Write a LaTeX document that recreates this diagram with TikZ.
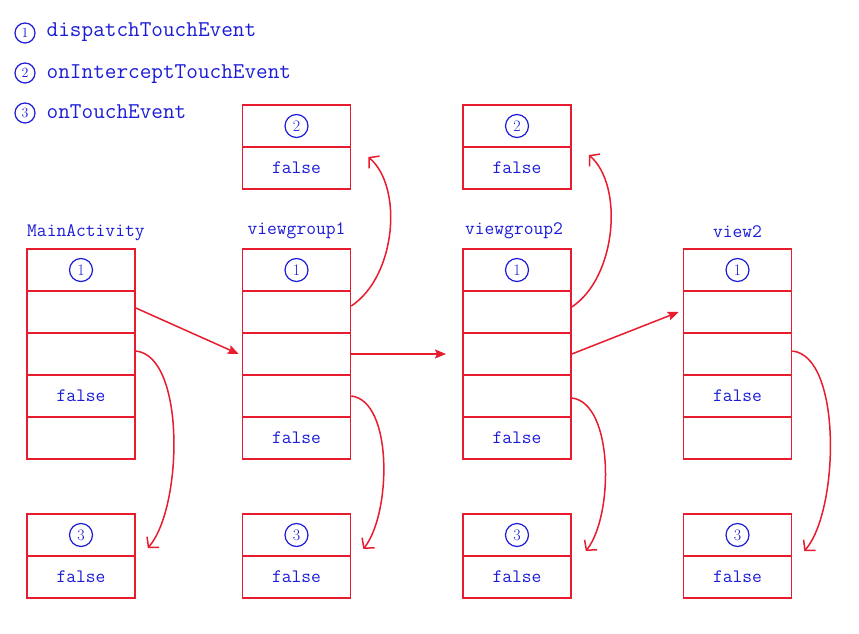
\documentclass[tikz,border=0pt]{standalone}
\usetikzlibrary{arrows.meta}
\definecolor{myred}{RGB}{232,28,46}
\definecolor{myblue}{RGB}{28,28,215}
\begin{document}
\begin{tikzpicture}[x=1pt,y=-1pt,
  cell/.style={draw=myred,line width=1.6pt,minimum width=108pt,minimum height=42pt,inner sep=0pt,
    text=myblue,font=\fontsize{19}{19}\selectfont\ttfamily},
  numc/.style={circle,draw=myblue,line width=1.2pt,minimum size=23pt,inner sep=0pt,
    text=myblue,font=\fontsize{16}{16}\selectfont\rmfamily},
  legc/.style={circle,draw=myblue,line width=1.2pt,minimum size=20pt,inner sep=0pt,
    text=myblue,font=\fontsize{14}{14}\selectfont\rmfamily},
  legt/.style={anchor=base west,inner sep=0pt,text=myblue,font=\fontsize{22.6}{22.6}\selectfont\ttfamily},
  lbl/.style={anchor=base,inner sep=0pt,text=myblue,font=\fontsize{19}{19}\selectfont\ttfamily},
  straight/.style={draw=myred,line width=1.5pt,-{Stealth[length=11pt,width=9pt,inset=2pt]}},
  curve/.style={draw=myred,line width=1.5pt,-{Straight Barb[length=7pt,width=16pt]}}
]
\useasboundingbox[fill=white] (0,0) rectangle (859,634);

% legend
\node[legc] (l1) at (25,33) {1};
\node[legt] (lt1) at (46.5,37) {dispatchTouchEvent};
\node[legc] (l2) at (25,73) {2};
\node[legt] (lt2) at (46.5,78) {onInterceptTouchEvent};
\node[legc] (l3) at (25,113) {3};
\node[legt] (lt3) at (46.5,118) {onTouchEvent};

% column labels
\node[lbl,anchor=base west] (h1) at (27,236) {MainActivity};
\node[lbl] (h2) at (296.5,234) {viewgroup1};
\node[lbl] (h3) at (514,234) {viewgroup2};
\node[lbl] (h4) at (737.5,237) {view2};

% column 1
\node[cell] (c1r1) at (81,270) {};
\node[cell] (c1r2) at (81,312) {};
\node[cell] (c1r3) at (81,354) {};
\node[cell] (c1r4) at (81,396) {false};
\node[cell] (c1r5) at (81,438) {};
\node[numc] (n1) at (c1r1) {1};
% column 2
\node[cell] (c2r1) at (296.5,270) {};
\node[cell] (c2r2) at (296.5,312) {};
\node[cell] (c2r3) at (296.5,354) {};
\node[cell] (c2r4) at (296.5,396) {};
\node[cell] (c2r5) at (296.5,438) {false};
\node[numc] (n2) at (c2r1) {1};
% column 3
\node[cell] (c3r1) at (517,270) {};
\node[cell] (c3r2) at (517,312) {};
\node[cell] (c3r3) at (517,354) {};
\node[cell] (c3r4) at (517,396) {};
\node[cell] (c3r5) at (517,438) {false};
\node[numc] (n3) at (c3r1) {1};
% column 4
\node[cell] (c4r1) at (737.5,270) {};
\node[cell] (c4r2) at (737.5,312) {};
\node[cell] (c4r3) at (737.5,354) {};
\node[cell] (c4r4) at (737.5,396) {false};
\node[cell] (c4r5) at (737.5,438) {};
\node[numc] (n4) at (c4r1) {1};

% top boxes
\node[cell] (t2a) at (296.5,126) {};
\node[cell] (t2b) at (296.5,168) {false};
\node[numc] (tn2) at (t2a) {2};
\node[cell] (t3a) at (517,126) {};
\node[cell] (t3b) at (517,168) {false};
\node[numc] (tn3) at (t3a) {2};

% bottom boxes
\node[cell] (b1a) at (81,535) {};
\node[cell] (b1b) at (81,577) {false};
\node[numc] (bn1) at (b1a) {3};
\node[cell] (b2a) at (296.5,535) {};
\node[cell] (b2b) at (296.5,577) {false};
\node[numc] (bn2) at (b2a) {3};
\node[cell] (b3a) at (517,535) {};
\node[cell] (b3b) at (517,577) {false};
\node[numc] (bn3) at (b3a) {3};
\node[cell] (b4a) at (737.5,535) {};
\node[cell] (b4b) at (737.5,577) {false};
\node[numc] (bn4) at (b4a) {3};

% straight arrows
\coordinate (gap) at (446,354);
\draw[straight] ([yshift=4pt]c1r2.east) -- ([xshift=-3pt]c2r3.west);
\draw[straight] (c2r3.east) -- (gap);
\draw[straight] (c3r3.east) -- ([xshift=-4pt]c4r2.west);

% curved arrows
\draw[curve] ([yshift=3pt]c1r3.east) .. controls +(50,5) and +(35,-40) .. ([xshift=12pt,yshift=-13pt]b1a.east);
\draw[curve] ([yshift=6pt]c2r2.east) .. controls +(45,-30) and +(35,30) .. ([xshift=17pt,yshift=11pt]t2b.east);
\draw[curve] (c2r4.east) .. controls +(42,5) and +(28,-35) .. ([xshift=12pt,yshift=-14pt]b2a.east);
\draw[curve] ([yshift=5pt]c3r2.east) .. controls +(45,-30) and +(35,30) .. ([xshift=17pt,yshift=13pt]t3b.east);
\draw[curve] ([yshift=-2pt]c3r4.east) .. controls +(42,5) and +(28,-35) .. ([xshift=14pt,yshift=-16pt]b3a.east);
\draw[curve] ([yshift=3pt]c4r3.east) .. controls +(50,5) and +(35,-40) .. ([xshift=12pt,yshift=-16pt]b4a.east);
\end{tikzpicture}
\end{document}
